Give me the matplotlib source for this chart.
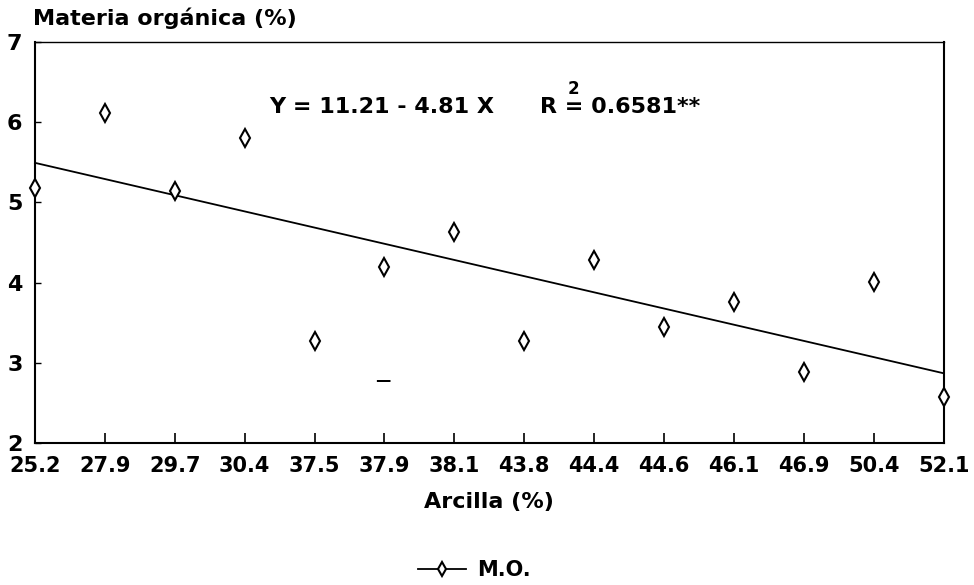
import matplotlib
matplotlib.use("Agg")
import matplotlib.pyplot as plt
import numpy as np
from matplotlib.lines import Line2D

plt.rcParams['font.family'] = ['DejaVu Sans']
plt.rcParams['font.weight'] = 'bold'

arcilla = ["25.2", "27.9", "29.7", "30.4", "37.5", "37.9", "38.1",
           "43.8", "44.4", "44.6", "46.1", "46.9", "50.4", "52.1"]
materia_organica = [5.18, 6.11, 5.14, 5.80, 3.27, 4.19, 4.63,
                    3.27, 4.28, 3.45, 3.76, 2.88, 4.01, 2.57]

pos = np.arange(len(arcilla))
slope, intercept = np.polyfit(pos, materia_organica, 1)
fit = intercept + slope * pos

fig = plt.figure(figsize=(9.74, 5.85), dpi=100)
ax = fig.add_axes([0.0359, 0.2427, 0.933, 0.6855])

ax.plot(pos, fit, color='black', lw=1.3, clip_on=False)
ax.plot(pos, materia_organica, linestyle='none', marker='d', markersize=9,
        markerfacecolor='white', markeredgecolor='black', markeredgewidth=1.5,
        clip_on=False, zorder=5)

ax.set_xlim(0, len(arcilla) - 1)
ax.set_ylim(2, 7)
ax.set_xticks(pos)
ax.set_xticklabels(arcilla)
ax.set_yticks([2, 3, 4, 5, 6, 7])
ax.tick_params(axis='x', direction='in', length=7, width=1.2, labelsize=15, pad=9)
ax.tick_params(axis='y', direction='in', length=4, width=1.0, labelsize=16, pad=9)
for lab in ax.get_xticklabels() + ax.get_yticklabels():
    lab.set_fontweight('bold')
for s in ax.spines.values():
    s.set_linewidth(1.5)
ax.spines['top'].set_linewidth(1.0)

ax.set_xlabel("Arcilla (%)", fontsize=16, fontweight='bold', labelpad=12)
fig.text(0.034, 0.969, "Materia orgánica (%)", fontsize=16, fontweight='bold',
         ha='left', va='center')

ax.text(0.382, 0.838, "Y = 11.21 - 4.81 X", transform=ax.transAxes, fontsize=16,
        fontweight='bold', ha='center', va='center')
ax.text(0.556, 0.838, "R = 0.6581**", transform=ax.transAxes, fontsize=16,
        fontweight='bold', ha='left', va='center')
ax.text(0.592, 0.883, "2", transform=ax.transAxes, fontsize=12,
        fontweight='bold', ha='center', va='center')
ax.text(0.383, 0.155, "—", transform=ax.transAxes, fontsize=11,
        ha='center', va='center')

handle = Line2D([], [], color='black', lw=1.3, marker='d', markersize=7,
                markerfacecolor='white', markeredgecolor='black', markeredgewidth=1.5)
fig.legend([handle], ["M.O."], loc='center', bbox_to_anchor=(0.487, 0.025),
           frameon=False, fontsize=15, handlelength=2.3, handletextpad=0.5)

fig.savefig("out.png", dpi=100)
